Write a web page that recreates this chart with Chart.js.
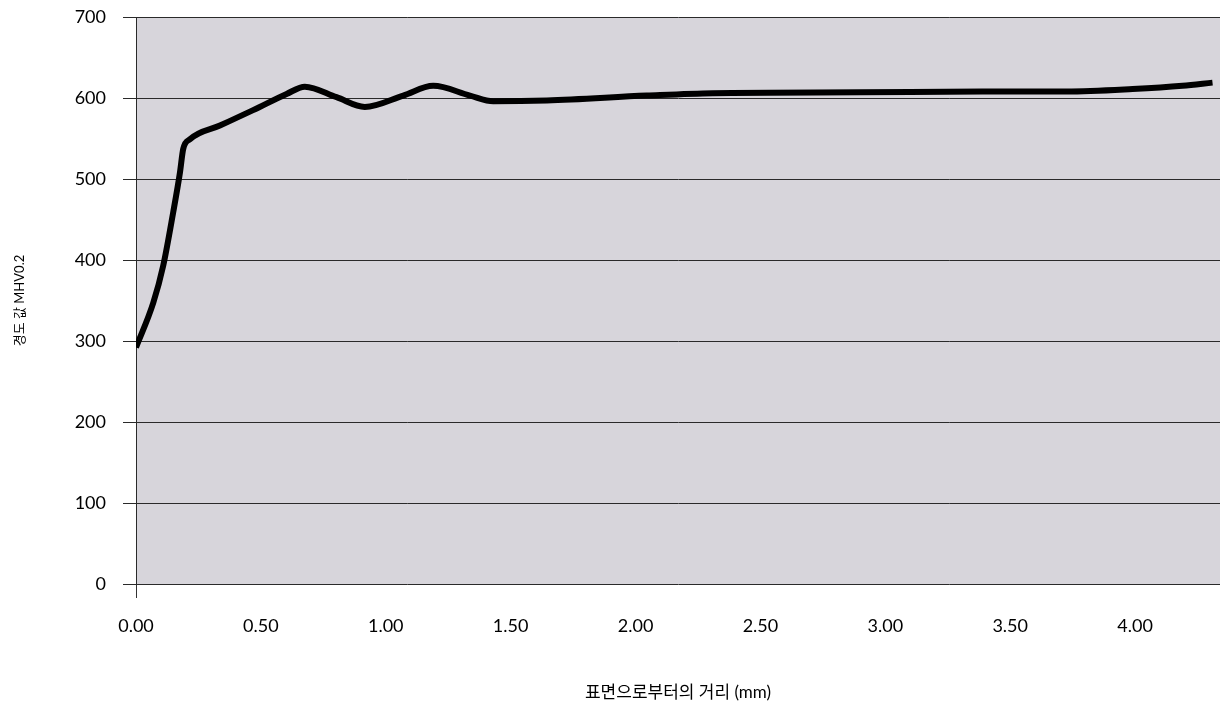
<!DOCTYPE html>
<html>
<head>
<meta charset="utf-8">
<script src="https://cdn.jsdelivr.net/npm/chart.js@4"></script>
<style>
  body { margin: 0; background: #fff; }
</style>
</head>
<body>
<canvas id="myChart" width="1220" height="705"></canvas>
<script>
'use strict';

// distance from the surface (mm) and hardness
let distances = [0, 0.069, 0.109, 0.149, 0.176, 0.189, 0.216, 0.336, 0.469, 0.603, 0.676, 0.803, 0.916,
                 1.070, 1.190, 1.337, 1.430, 1.645, 2.045, 2.309, 2.897, 3.389, 3.725, 3.990, 4.190, 4.310];
let hardness = [292, 347, 393, 459, 508, 537, 549, 566, 585, 605, 614, 601, 589,
                603, 615, 603, 596, 597, 603, 606, 607, 608, 608, 611, 615, 619];

let xTicks = [0, 0.5, 1, 1.5, 2, 2.5, 3, 3.5, 4];
let yTicks = [0, 100, 200, 300, 400, 500, 600, 700];

let xTitle = '표면으로부터의 거리 (mm)';
let yTitle = '경도 값 MHV0.2';

let points = [];
for (let i = 0; i < distances.length; i++) {
  points.push({x: distances[i], y: hardness[i]});
}

let fontFamily = "Lato, 'Noto Sans CJK KR', sans-serif";

// grey plot background
let plotBg = {
  id: 'plotBg',
  beforeDraw(chart) {
    let ctx = chart.ctx;
    let a = chart.chartArea;
    ctx.save();
    ctx.fillStyle = '#d7d5db';
    ctx.fillRect(a.left, a.top, a.right - a.left, a.bottom - a.top);
    ctx.restore();
  }
};

let ctx = document.getElementById('myChart').getContext('2d');
let chart = new Chart(ctx, {
  type: 'line',
  data: {
    datasets: [{
      data: points,
      borderColor: '#000',
      borderWidth: 6,
      pointRadius: 0,
      fill: false,
      cubicInterpolationMode: 'monotone'
    }]
  },
  options: {
    responsive: false,
    animation: false,
    devicePixelRatio: 1,
    layout: { padding: { top: 17, right: 0, bottom: 0, left: 0 } },
    plugins: {
      legend: { display: false },
      tooltip: { enabled: false }
    },
    scales: {
      x: {
        type: 'linear',
        min: 0,
        max: 4.34,
        afterBuildTicks: function (scale) {
          scale.ticks = xTicks.map(v => ({value: v}));
        },
        afterFit: function (scale) { scale.height = 121; },
        ticks: {
          padding: 17,
          color: '#000',
          font: { family: fontFamily, size: 18 },
          callback: v => v.toFixed(2)
        },
        grid: {
          drawOnChartArea: false,
          tickLength: 14,
          color: c => (c.tick && c.tick.value === 0) ? '#333' : 'rgba(0,0,0,0)'
        },
        border: { display: false },
        title: {
          display: true,
          text: xTitle,
          color: '#000',
          font: { family: fontFamily, size: 17 },
          padding: { top: 0, bottom: 2 }
        }
      },
      y: {
        min: 0,
        max: 700,
        afterBuildTicks: function (scale) {
          scale.ticks = yTicks.map(v => ({value: v}));
        },
        afterFit: function (scale) {
          scale.width = 136;
          // don't let the label half-heights push the plot down
          scale.paddingTop = 0;
          scale.paddingBottom = 0;
        },
        ticks: {
          padding: 17,
          color: '#000',
          font: { family: fontFamily, size: 18 }
        },
        grid: { color: '#2a2a2a', lineWidth: 1, tickLength: 13 },
        border: { display: true, color: '#2a2a2a', width: 1 },
        title: {
          display: true,
          text: yTitle,
          color: '#000',
          font: { family: fontFamily, size: 13 },
          padding: { top: 12, bottom: 0 }
        }
      }
    }
  },
  plugins: [plotBg]
});
</script>
</body>
</html>
